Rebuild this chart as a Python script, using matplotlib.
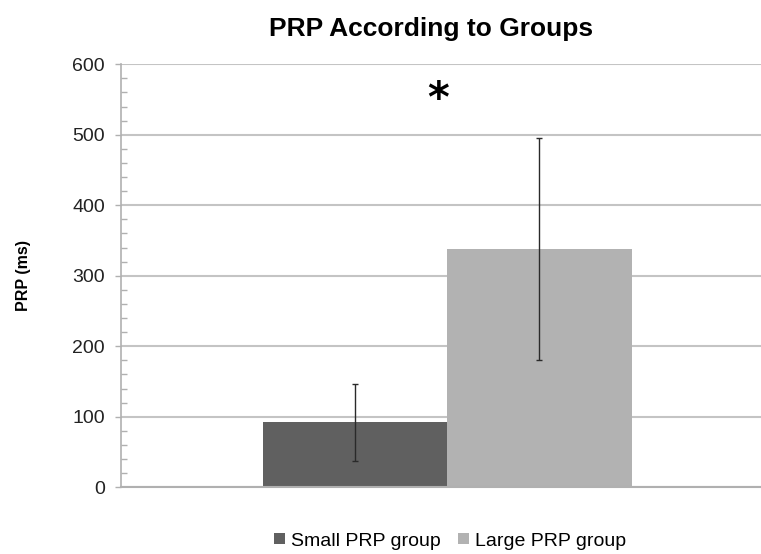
import matplotlib.pyplot as plt
from matplotlib.ticker import MultipleLocator

plt.rcParams["font.family"] = ["Liberation Sans", "DejaVu Sans"]

# valores
grupos = ["Small PRP group", "Large PRP group"]
media = [92, 338]
erro_inf = [38, 181]
erro_sup = [147, 495]
cores = ["#606060", "#b2b2b2"]

fig = plt.figure(figsize=(7.61, 5.54), dpi=100)
ax = fig.add_axes([0.159, 0.1204, 0.841, 0.7636])

posicoes = [0, 1]
for x, m, lo, hi, cor, nome in zip(posicoes, media, erro_inf, erro_sup, cores, grupos):
    ax.bar(x, m, width=1.0, color=cor, label=nome, zorder=2)
    ax.errorbar(x, m, yerr=[[m - lo], [hi - m]], fmt="none", ecolor="#2a2a2a",
                elinewidth=1, capsize=2, capthick=1, zorder=3)

ax.set_xlim(-1.267, 2.2)
ax.set_ylim(0, 600)
ax.yaxis.set_major_locator(MultipleLocator(100))
ax.yaxis.set_minor_locator(MultipleLocator(20))
ax.grid(axis="y", color="#c4c4c4", linewidth=1.5, zorder=0)
ax.set_axisbelow(True)

for lado in ["top", "right"]:
    ax.spines[lado].set_visible(False)
ax.spines["left"].set_color("#b0b0b0")
ax.spines["bottom"].set_color("#b0b0b0")
ax.spines["left"].set_linewidth(1.2)
ax.spines["bottom"].set_linewidth(1.5)
ax.set_xticks([])
ax.tick_params(axis="y", which="major", direction="out", length=4.5, color="#b0b0b0",
               width=1, labelsize=14, labelcolor="#222222", pad=7)
ax.tick_params(axis="y", which="minor", direction="in", length=4, color="#b0b0b0", width=1)

ax.set_ylabel("PRP (ms)", fontsize=11.5, fontweight="bold")
ax.yaxis.set_label_coords(-0.14, 0.5)
fig.text(0.567, 0.948, "PRP According to Groups", ha="center", va="center",
         fontsize=19, fontweight="bold")

# asterisco de significância
ax.text(0.45, 550, "*", ha="center", va="center", fontsize=30, fontweight="bold",
        family="DejaVu Sans")

fig.legend(loc="center", bbox_to_anchor=(450 / 761, 1 - 541 / 554), ncol=2, frameon=False,
           fontsize=14, handlelength=0.55, handleheight=0.55, handletextpad=0.3,
           columnspacing=0.9)

plt.savefig("out.png", dpi=100)
plt.close()
